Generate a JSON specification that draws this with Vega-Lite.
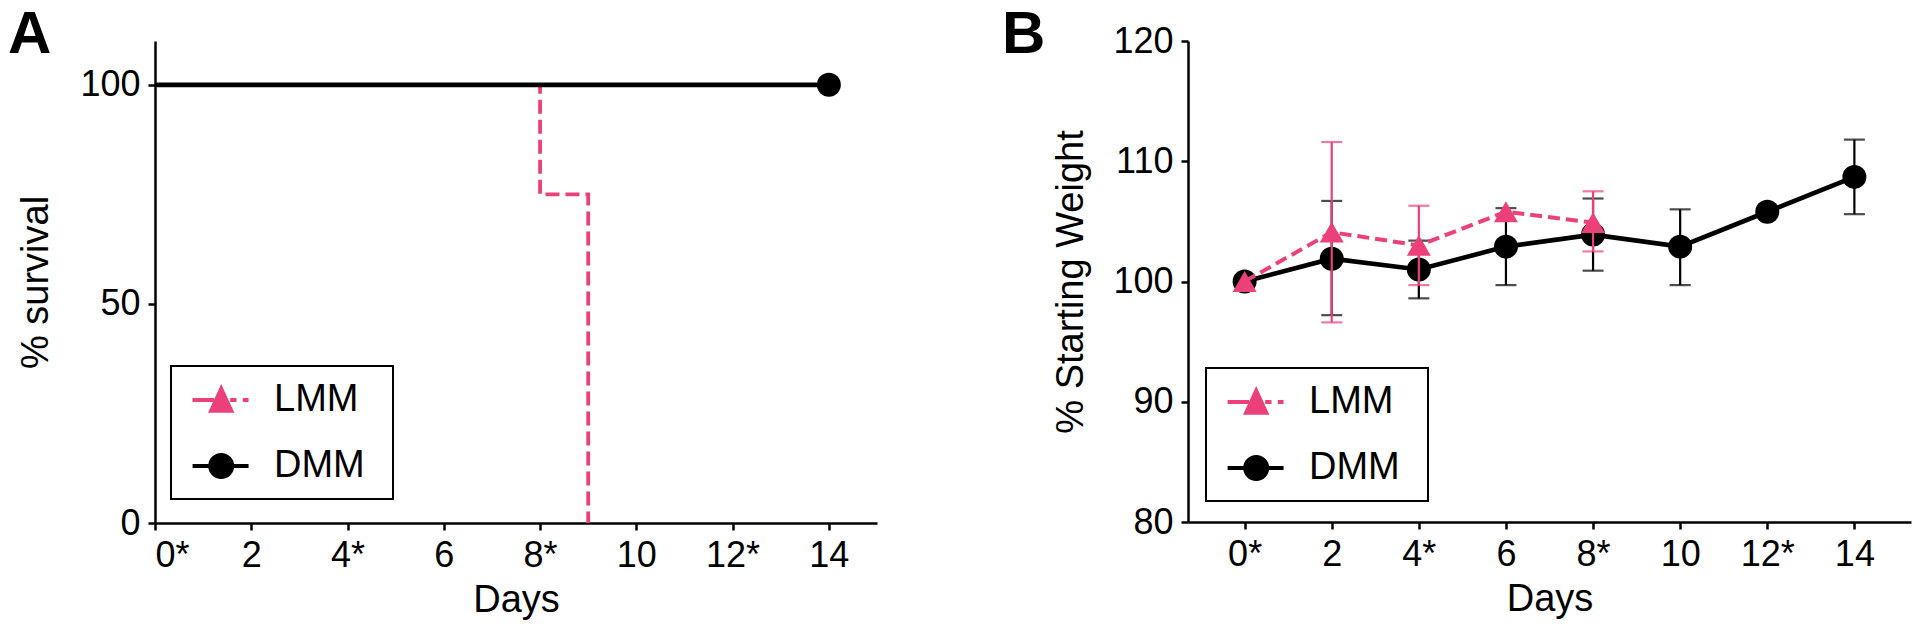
{
  "$schema": "https://vega.github.io/schema/vega-lite/v6.json",
  "background": "white",
  "padding": {"left": 8, "top": 5, "right": 5, "bottom": 5},
  "bounds": "flush",
  "spacing": 311,
  "config": {
    "view": {"stroke": null},
    "font": "Liberation Sans",
    "axis": {
      "grid": false,
      "domainColor": "black", "domainWidth": 2.5,
      "tickColor": "black", "tickWidth": 2.5, "tickSize": 7,
      "labelFont": "Liberation Sans", "labelFontSize": 36, "labelColor": "black",
      "titleFont": "Liberation Sans", "titleFontSize": 38, "titleFontWeight": "normal", "titleColor": "black"
    },
    "title": {"font": "Liberation Sans", "fontSize": 60, "fontWeight": "bold", "color": "black", "anchor": "start", "frame": "group"}
  },
  "resolve": {"scale": {"color": "independent", "x": "independent", "y": "independent"}, "legend": {"color": "independent"}},
  "datasets": {
    "survival": [
      {"series": "LMM", "day": 0, "pct": 100},
      {"series": "LMM", "day": 8, "pct": 75},
      {"series": "LMM", "day": 9, "pct": 0},
      {"series": "DMM", "day": 0, "pct": 100},
      {"series": "DMM", "day": 14, "pct": 100}
    ],
    "weight": [
      {"series": "LMM", "day": 0, "w": 100.0, "lo": null, "hi": null},
      {"series": "LMM", "day": 2, "w": 104.1, "lo": 96.6, "hi": 111.6},
      {"series": "LMM", "day": 4, "w": 103.0, "lo": 99.7, "hi": 106.3},
      {"series": "LMM", "day": 6, "w": 105.8, "lo": null, "hi": null},
      {"series": "LMM", "day": 8, "w": 104.9, "lo": 102.5, "hi": 107.5},
      {"series": "DMM", "day": 0, "w": 100.0, "lo": null, "hi": null},
      {"series": "DMM", "day": 2, "w": 101.9, "lo": 97.2, "hi": 106.7},
      {"series": "DMM", "day": 4, "w": 101.0, "lo": 98.6, "hi": 103.4},
      {"series": "DMM", "day": 6, "w": 102.9, "lo": 99.7, "hi": 106.1},
      {"series": "DMM", "day": 8, "w": 103.9, "lo": 100.9, "hi": 106.9},
      {"series": "DMM", "day": 10, "w": 102.9, "lo": 99.7, "hi": 106.0},
      {"series": "DMM", "day": 12, "w": 105.8, "lo": null, "hi": null},
      {"series": "DMM", "day": 14, "w": 108.7, "lo": 105.6, "hi": 111.8}
    ]
  },
  "hconcat": [
    {
      "width": 722,
      "height": 482,
      "title": {"text": "A", "dx": -147, "offset": -25},
      "data": {"name": "survival"},
      "encoding": {
        "x": {"field": "day", "type": "quantitative", "scale": {"domain": [0, 15], "nice": false, "zero": false},
          "axis": {"title": "Days", "values": [0, 2, 4, 6, 8, 10, 12, 14], "labelPadding": 8, "titlePadding": 8,
            "labelExpr": "datum.value % 4 === 0 ? datum.value + '*' : '' + datum.value",
            "encode": {"labels": {"update": {"dx": {"signal": "datum.value % 4 === 0 ? 6 : 0"}}}}}},
        "y": {"field": "pct", "type": "quantitative", "scale": {"domain": [0, 110], "nice": false},
          "axis": {"title": "% survival", "values": [0, 50, 100], "labelPadding": 8, "titlePadding": 24}},
        "color": {"field": "series", "type": "nominal",
          "scale": {"domain": ["LMM", "DMM"], "range": ["#EC407A", "#000000"]},
          "legend": {
            "orient": "none", "legendX": 16, "legendY": 325,
            "title": "\u00a0", "titleOrient": "right", "titleFontSize": 2, "titlePadding": 14,
            "labelFont": "Liberation Sans", "labelFontSize": 38, "labelColor": "black",
            "symbolSize": 1296, "padding": 14, "rowPadding": 27, "labelOffset": 49,
            "strokeColor": "black",
            "encode": {
              "symbols": {"update": {
                "shape": {"signal": "datum.value === 'LMM' ? 'M-0.69,0H0.5M1.4,0H1.75M2.1,0H2.42M0.34,0.6L0.9,-0.62L1.46,0.6Z' : 'M-0.69,0H2.42M0.29,0A0.61,0.61,0,1,0,1.51,0A0.61,0.61,0,1,0,0.29,0Z'"},
                "fill": {"signal": "datum.value === 'LMM' ? '#EC407A' : '#000000'"},
                "stroke": {"signal": "datum.value === 'LMM' ? '#EC407A' : '#000000'"},
                "strokeWidth": {"value": 4},
                "opacity": {"value": 1},
                "fillOpacity": {"value": 1}
              }},
              "legend": {"update": {"strokeWidth": {"value": 2}}}
            }
          }}
      },
      "layer": [
        {"transform": [{"filter": "datum.series === 'LMM'"}],
         "mark": {"type": "line", "interpolate": "step-after", "strokeWidth": 3.8, "strokeDash": [14, 6]}},
        {"transform": [{"filter": "datum.series === 'DMM'"}],
         "mark": {"type": "line", "interpolate": "step-after", "strokeWidth": 4.8}},
        {"transform": [{"filter": "datum.series === 'DMM' && datum.day === 14"}],
         "mark": {"type": "point", "shape": "circle", "filled": true, "size": 576, "opacity": 1}}
      ]
    },
    {
      "width": 723,
      "height": 481,
      "title": {"text": "B", "dx": -186, "offset": -43},
      "data": {"name": "weight"},
      "encoding": {
        "x": {"field": "day", "type": "quantitative", "scale": {"domain": [-1.3, 15.3], "nice": false, "zero": false},
          "axis": {"title": "Days", "values": [0, 2, 4, 6, 8, 10, 12, 14], "labelPadding": 8, "titlePadding": 8,
            "labelExpr": "datum.value % 4 === 0 ? datum.value + '*' : '' + datum.value",
            "encode": {"labels": {"update": {"dx": {"signal": "datum.value % 4 === 0 ? 6 : 0"}}}}}},
        "y": {"field": "w", "type": "quantitative", "scale": {"domain": [80, 120], "nice": false, "zero": false},
          "axis": {"title": "% Starting Weight", "values": [80, 90, 100, 110, 120], "labelPadding": 8, "titlePadding": 22}},
        "color": {"field": "series", "type": "nominal",
          "scale": {"domain": ["LMM", "DMM"], "range": ["#EC407A", "#000000"]},
          "legend": {
            "orient": "none", "legendX": 18, "legendY": 327,
            "title": "\u00a0", "titleOrient": "right", "titleFontSize": 2, "titlePadding": 14,
            "labelFont": "Liberation Sans", "labelFontSize": 38, "labelColor": "black",
            "symbolSize": 1296, "padding": 14, "rowPadding": 27, "labelOffset": 49,
            "strokeColor": "black",
            "encode": {
              "symbols": {"update": {
                "shape": {"signal": "datum.value === 'LMM' ? 'M-0.69,0H0.5M1.4,0H1.75M2.1,0H2.42M0.34,0.6L0.9,-0.62L1.46,0.6Z' : 'M-0.69,0H2.42M0.29,0A0.61,0.61,0,1,0,1.51,0A0.61,0.61,0,1,0,0.29,0Z'"},
                "fill": {"signal": "datum.value === 'LMM' ? '#EC407A' : '#000000'"},
                "stroke": {"signal": "datum.value === 'LMM' ? '#EC407A' : '#000000'"},
                "strokeWidth": {"value": 4},
                "opacity": {"value": 1},
                "fillOpacity": {"value": 1}
              }},
              "legend": {"update": {"strokeWidth": {"value": 2}}}
            }
          }}
      },
      "layer": [
        {"transform": [{"filter": "datum.series === 'DMM' && datum.lo != null"}],
         "mark": {"type": "errorbar", "ticks": true, "size": 21, "thickness": 2.2, "color": "#000000"},
         "encoding": {"y": {"field": "lo", "type": "quantitative"}, "y2": {"field": "hi"}, "color": null}},
        {"transform": [{"filter": "datum.series === 'DMM'"}],
         "mark": {"type": "line", "strokeWidth": 4.6}},
        {"transform": [{"filter": "datum.series === 'DMM'"}],
         "mark": {"type": "point", "shape": "circle", "filled": true, "size": 576, "opacity": 1}},
        {"transform": [{"filter": "datum.series === 'LMM' && datum.lo != null"}],
         "mark": {"type": "errorbar", "ticks": true, "size": 21, "thickness": 2.2, "color": "#EC407A"},
         "encoding": {"y": {"field": "lo", "type": "quantitative"}, "y2": {"field": "hi"}, "color": null}},
        {"transform": [{"filter": "datum.series === 'LMM'"}],
         "mark": {"type": "line", "strokeWidth": 4, "strokeDash": [12, 6]}},
        {"transform": [{"filter": "datum.series === 'LMM'"}],
         "mark": {"type": "point", "shape": "triangle-up", "filled": true, "size": 576, "opacity": 1}}
      ]
    }
  ]
}
